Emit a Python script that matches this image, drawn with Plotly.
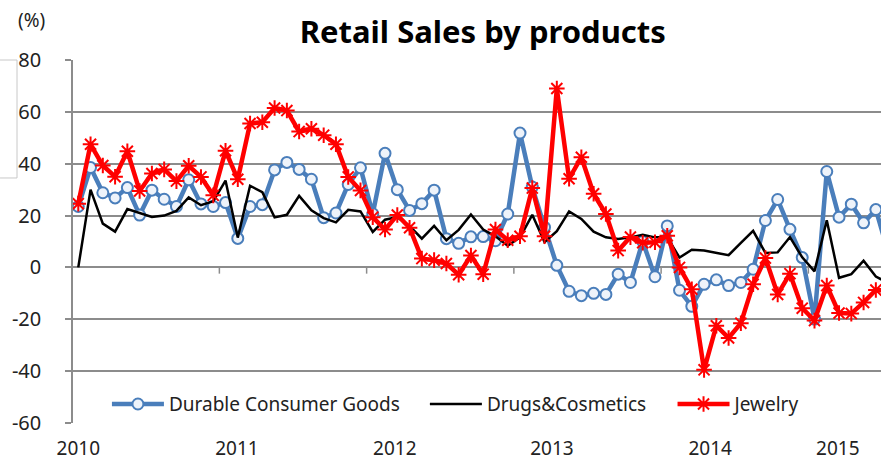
import plotly.graph_objects as go

# Monthly year-on-year growth (%) by product group, Jan 2010 onward
months = [f"{y}-{m:02d}" for y in range(2010, 2016) for m in range(1, 13)][:67]

durable_goods = [
    23.5, 38.5, 28.8, 26.8, 30.8, 20.2, 29.8, 26.3, 23.5, 33.8, 24.5, 23.5,
    25.0, 11.2, 23.5, 24.2, 37.6, 40.5, 37.8, 34.0, 19.2, 21.0, 32.0, 38.4,
    20.7, 44.0, 30.0, 22.0, 24.6, 29.8, 11.1, 9.3, 11.8, 11.9, 10.3, 20.6,
    51.8, 31.0, 15.5, 0.8, -9.2, -10.9, -10.0, -10.4, -2.6, -5.8, 10.0, -3.6,
    16.0, -8.8, -15.0, -6.5, -4.8, -7.0, -5.8, -0.7, 18.1, 26.2, 14.7, 3.8,
    -19.9, 37.0, 19.4, 24.4, 17.2, 22.3, 6.0,
]
drugs_cosmetics = [
    0.0, 30.0, 16.9, 13.8, 22.5, 21.0, 19.5, 20.0, 21.8, 27.0, 24.0, 25.5,
    33.5, 11.5, 31.5, 29.0, 19.3, 20.3, 27.6, 22.0, 19.0, 17.4, 22.2, 21.6,
    13.7, 18.4, 19.4, 16.0, 11.1, 16.0, 10.5, 14.5, 20.4, 14.6, 12.0, 8.4,
    11.6, 20.3, 9.7, 14.0, 21.6, 18.7, 13.8, 11.6, 11.0, 11.6, 12.6, 11.6,
    11.6, 3.8, 6.8, 6.5, 5.6, 4.7, 9.5, 14.1, 5.6, 5.8, 11.7, 3.9,
    -1.5, 18.2, -4.0, -2.6, 2.6, -3.5, -6.0,
]
jewelry = [
    24.6, 47.5, 39.3, 35.0, 44.8, 29.5, 36.2, 37.8, 33.3, 39.2, 34.9, 27.8,
    45.0, 34.0, 55.5, 56.0, 61.5, 60.5, 52.4, 53.5, 51.0, 47.5, 34.9, 29.7,
    19.4, 14.6, 20.2, 15.3, 3.4, 2.8, 1.5, -2.8, 4.6, -2.6, 14.6, 10.5,
    12.0, 30.6, 12.0, 69.0, 34.2, 42.5, 28.4, 20.6, 6.5, 11.7, 9.5, 9.7,
    12.2, 0.0, -8.4, -39.5, -22.5, -27.2, -21.5, -6.5, 3.6, -10.4, -2.4, -15.7,
    -20.5, -7.0, -17.6, -17.8, -13.5, -8.7, -9.0,
]

year_labels = ["2010", "2011", "2012", "2013", "2014", "2015"]
y_ticks = [80, 60, 40, 20, 0, -20, -40, -60]

BLUE = "#4a7ebb"
RED = "#ff0000"
GRID = "#8c8c8c"
TEXT = "#222222"
FONT = "Noto Sans"

# Months are laid out one slot each along a numeric axis
month_idx = list(range(len(months)))

fig = go.Figure()

fig.add_trace(go.Scatter(
    x=month_idx, y=durable_goods, name="Durable Consumer Goods",
    mode="lines+markers", customdata=months, legend="legend",
    line=dict(color=BLUE, width=4.5),
    marker=dict(symbol="circle", size=11, color="#eef3fa",
                line=dict(color=BLUE, width=2)),
))
fig.add_trace(go.Scatter(
    x=month_idx, y=drugs_cosmetics, name="Drugs&Cosmetics",
    mode="lines", customdata=months, legend="legend2",
    line=dict(color="#000000", width=2.5),
))
fig.add_trace(go.Scatter(
    x=month_idx, y=jewelry, name="Jewelry",
    mode="lines+markers", customdata=months, legend="legend3",
    line=dict(color=RED, width=4.5),
    marker=dict(symbol="asterisk-open", size=13, color=RED,
                line=dict(color=RED, width=2)),
))

# Year captions are spread evenly under the axis, the last one pulled in
year_label_x = [0, 12.93, 25.8, 38.6, 51.5, 61.9]

shapes = []
# Tick marks under the zero line at each year boundary
for k in range(1, len(year_labels)):
    b = 12 * k - 0.5
    shapes.append(dict(type="line", xref="x", yref="y", x0=b, x1=b, y0=0, y1=-2.4,
                       line=dict(color=GRID, width=1.5)))
# Thin frame at the far left edge
shapes.append(dict(type="path", xref="paper", yref="paper",
                   path="M -0.0903,1.0 L -0.0693,1.0 L -0.0693,0.675 L -0.0903,0.675",
                   line=dict(color="#c8c8c8", width=1)))


def legend_box(x):
    return dict(orientation="h", x=x, xanchor="left", y=0.052, yanchor="middle",
                bgcolor="rgba(0,0,0,0)", font=dict(size=19, color=TEXT),
                itemwidth=52, tracegroupgap=0)


fig.update_layout(
    width=881, height=462,
    margin=dict(l=73, r=0, t=60, b=39),
    paper_bgcolor="white", plot_bgcolor="white",
    font=dict(family=FONT, color=TEXT),
    title=dict(text="<b>Retail Sales by products</b>", x=0.548, xanchor="center",
               y=0.93, yanchor="middle", font=dict(size=31, color="#000000")),
    showlegend=True,
    legend=legend_box(0.042),
    legend2=legend_box(0.4355),
    legend3=legend_box(0.742),
    shapes=shapes,
    annotations=[dict(text="(%)", xref="paper", yref="paper", x=-0.051, y=1.11,
                      xanchor="center", yanchor="middle", showarrow=False,
                      font=dict(size=19, color=TEXT))],
)

fig.update_xaxes(
    range=[-0.43, 65.42],
    tickmode="array", tickvals=year_label_x, ticktext=year_labels,
    ticks="", showgrid=False, showline=False, zeroline=False,
    tickfont=dict(size=19, color=TEXT), ticklabelstandoff=12,
)
fig.update_yaxes(
    range=[-60, 80], tickmode="array", tickvals=y_ticks,
    ticktext=[str(v) for v in y_ticks],
    showgrid=True, gridcolor=GRID, gridwidth=1.5,
    showline=True, linecolor=GRID, linewidth=1.5,
    ticks="outside", ticklen=6, tickcolor=GRID, tickwidth=1.5,
    zeroline=False, tickfont=dict(size=20, color=TEXT),
    ticklabelstandoff=20,
)

fig.write_html("out.html")
